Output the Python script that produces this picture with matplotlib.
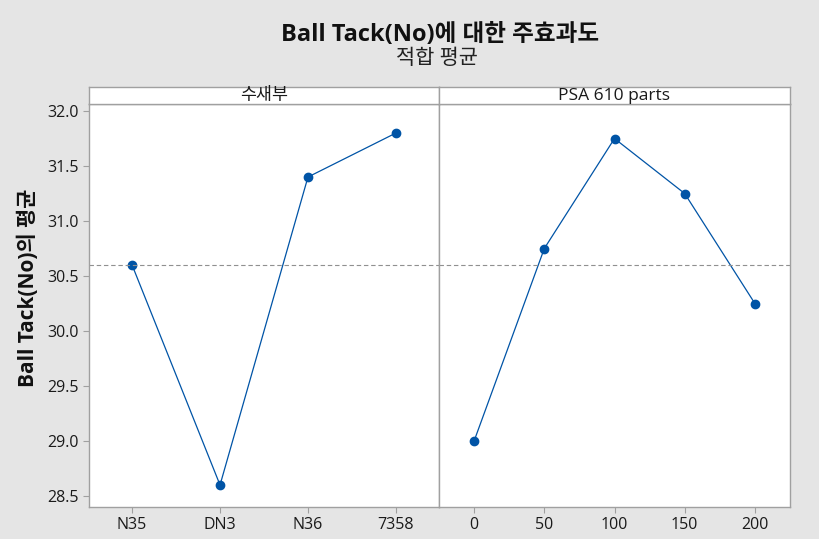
import matplotlib
matplotlib.use('Agg')
import matplotlib.pyplot as plt

plt.rcParams['font.family'] = ['Open Sans', 'Noto Sans CJK KR', 'DejaVu Sans']

# 데이터 ###############################################################
cat_left = ['N35', 'DN3', 'N36', '7358']
mean_left = [30.6, 28.6, 31.4, 31.8]

x_right = [0, 50, 100, 150, 200]
mean_right = [29.0, 30.75, 31.75, 31.25, 30.25]

grand_mean = 30.6
yticks = [28.5, 29.0, 29.5, 30.0, 30.5, 31.0, 31.5, 32.0]

bg = '#e5e5e5'
edge = '#a0a0a0'
blue = '#0054a6'

fig = plt.figure(figsize=(8.19, 5.39), dpi=100, facecolor=bg)

L, M, R = 89/819, 439/819, 790/819
B, T, ST = 1 - 507/539, 1 - 104/539, 1 - 87/539

ax1 = fig.add_axes([L, B, M - L, T - B])
ax2 = fig.add_axes([M, B, R - M, T - B], sharey=ax1)

# panel izquierdo
xs = list(range(len(cat_left)))
ax1.plot(xs, mean_left, color=blue, lw=0.9, marker='o', ms=6, mfc=blue, mec=blue)
ax1.axhline(grand_mean, color='#909090', lw=0.8, ls=(0, (4, 2.5)))
ax1.set_xticks(xs)
ax1.set_xticklabels(cat_left)
ax1.set_xlim(-0.49, 3.49)

# panel derecho
ax2.plot(x_right, mean_right, color=blue, lw=0.9, marker='o', ms=6, mfc=blue, mec=blue)
ax2.axhline(grand_mean, color='#909090', lw=0.8, ls=(0, (4, 2.5)))
ax2.set_xticks(x_right)
ax2.set_xlim(-25, 225)

ax1.set_ylim(28.4, 32.064)
ax1.set_yticks(yticks)
ax1.set_yticklabels(['%.1f' % v for v in yticks])
ax2.tick_params(axis='y', left=False, labelleft=False)

for ax in (ax1, ax2):
    for s in ax.spines.values():
        s.set_color(edge)
        s.set_linewidth(1.0)
    ax.tick_params(colors=edge, labelcolor='#1a1a1a', labelsize=11.5, length=4, width=0.8)

# cabeceras
for x0, x1, txt in [(L, M, '수새부'), (M, R, 'PSA 610 parts')]:
    sa = fig.add_axes([x0, T, x1 - x0, ST - T])
    sa.set_xticks([])
    sa.set_yticks([])
    for s in sa.spines.values():
        s.set_color(edge)
        s.set_linewidth(1.0)
    sa.text(0.5, 0.45, txt, ha='center', va='center', fontsize=12.5, color='#1a1a1a',
            transform=sa.transAxes)

fig.text(440/819, 1 - 35/539, 'Ball Tack(No)에 대한 주효과도', ha='center', va='center',
         fontsize=17, fontweight='bold', color='#111111')
fig.text(437/819, 1 - 59/539, '적합 평균', ha='center', va='center', fontsize=15, color='#222222')
fig.text(28/819, 1 - 288/539, 'Ball Tack(No)의 평균', rotation=90, ha='center', va='center',
         fontsize=15, fontweight='bold', color='#111111')

fig.savefig('out.png', dpi=100, facecolor=bg)
